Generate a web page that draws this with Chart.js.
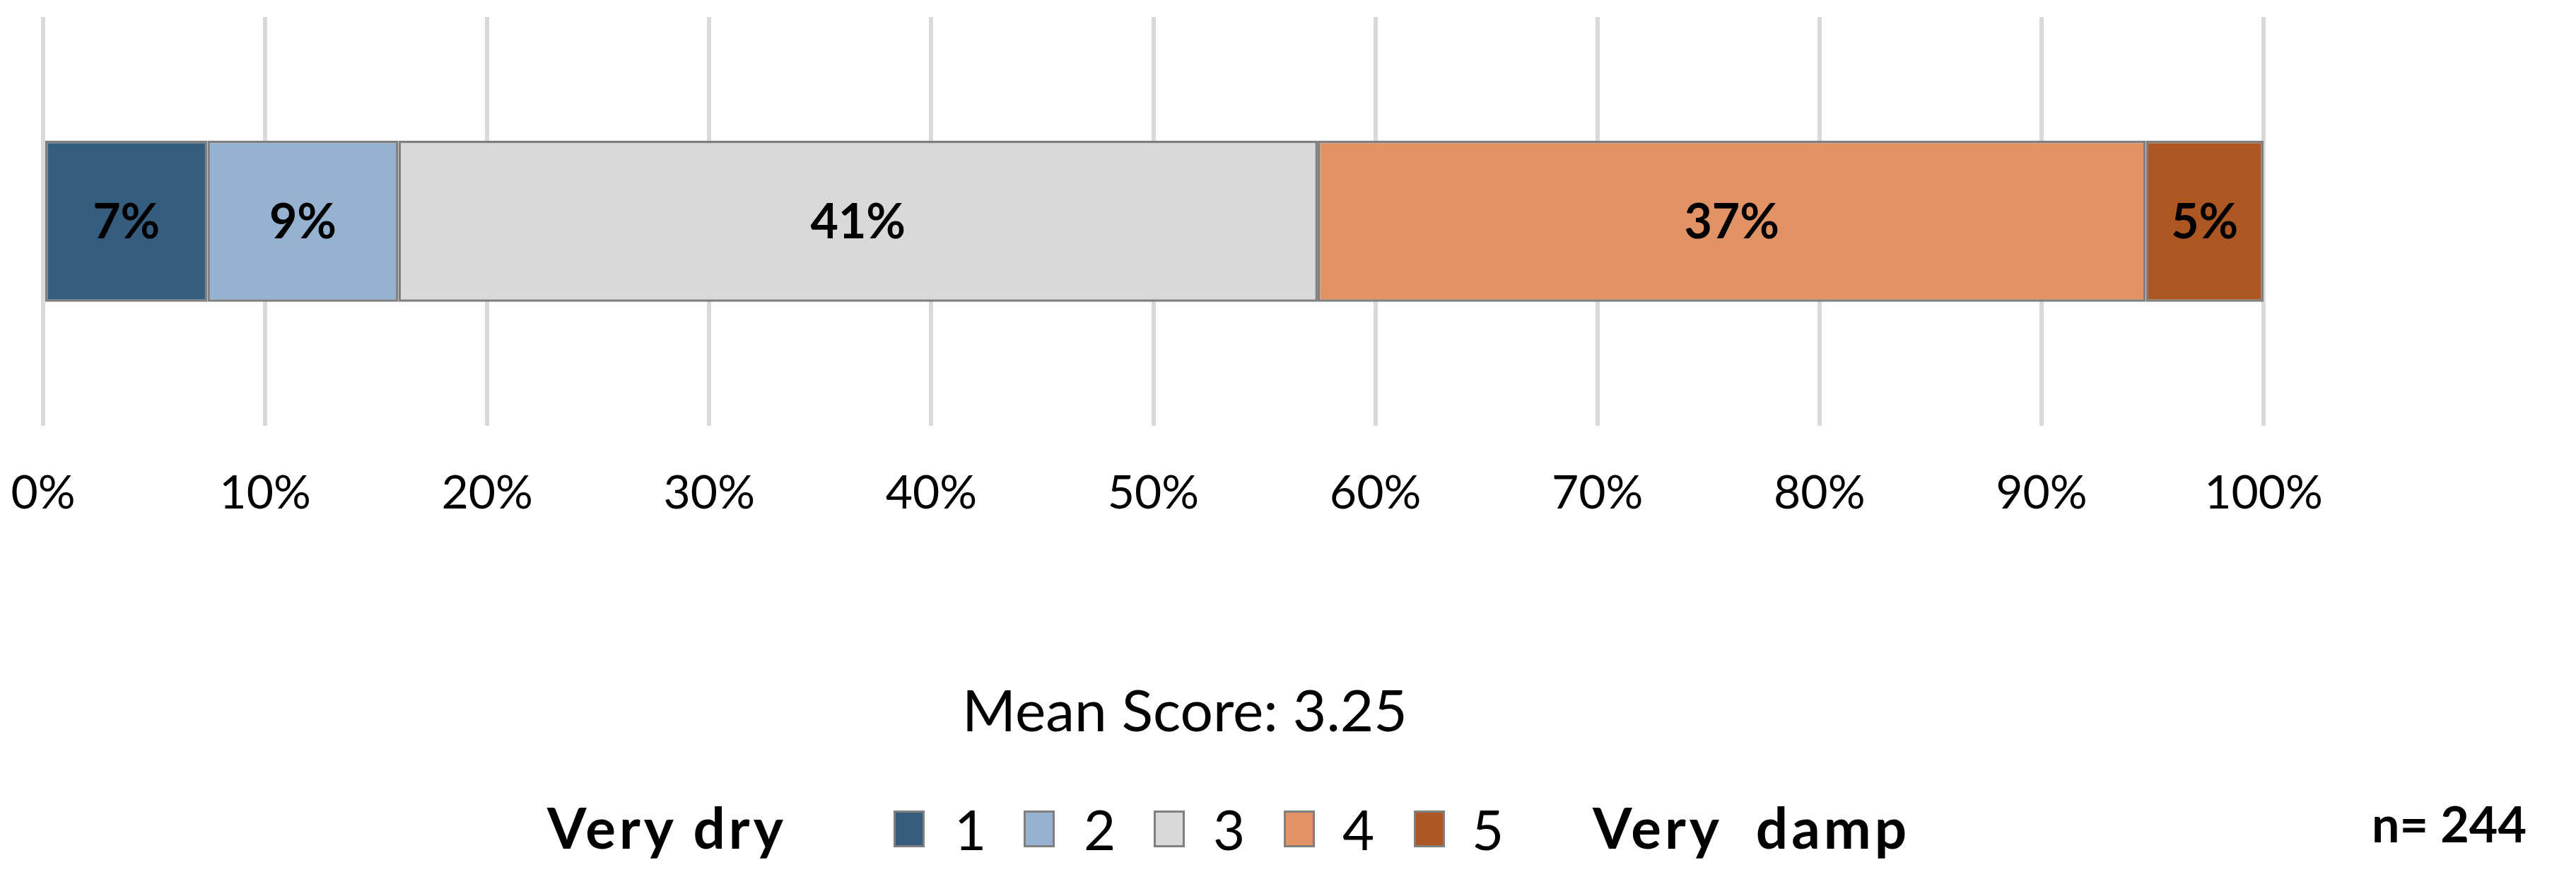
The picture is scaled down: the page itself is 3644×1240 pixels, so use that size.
<!DOCTYPE html>
<html>
<head>
<meta charset="utf-8">
<script src="https://cdn.jsdelivr.net/npm/chart.js@4.4.0/dist/chart.umd.min.js"></script>
<style>
  body { margin: 0; background: #fff; }
  #wrap { position: relative; width: 3644px; height: 1240px; font-family: Lato, "Open Sans", sans-serif; color: #000; }
  canvas { position: absolute; left: 0; top: 0; }
  .txt { position: absolute; white-space: pre; transform: translateY(-50%); line-height: 1; }
  .box { position: absolute; width: 44px; height: 52px; transform: translateY(-50%); box-sizing: border-box; border: 3px solid #7f7f7f; }
</style>
</head>
<body>
<div id="wrap">
  <canvas id="StackBar" width="3644" height="1240"></canvas>
</div>
<script>
// Share of answers per score (1 = very dry ... 5 = very damp)
const scores = ['1', '2', '3', '4', '5'];
const shares = [7.4, 8.6, 41.4, 37.3, 5.3];
const colors = ['#355e7e', '#95b3d1', '#d9d9d9', '#e19365', '#ad5722'];
const xTicks = [0, 10, 20, 30, 40, 50, 60, 70, 80, 90, 100];
const meanScore = '3.25';
const sampleSize = 244;
const lowLabel = 'Very dry';
const highLabel = 'Very  damp';

// draw the % labels inside each segment
const barLabels = {
    id: 'barLabels',
    afterDatasetsDraw(chart) {
        const ctx = chart.ctx;
        ctx.save();
        ctx.font = 'bold 68px Lato, sans-serif';
        ctx.fillStyle = '#000';
        ctx.textAlign = 'center';
        ctx.textBaseline = 'middle';
        chart.data.datasets.forEach((ds, i) => {
            const bar = chart.getDatasetMeta(i).data[0];
            const p = bar.getProps(['x', 'y', 'base'], true);
            ctx.fillText(Math.round(ds.data[0]) + '%', (p.x + p.base) / 2, p.y + 2);
        });
        ctx.restore();
    }
};

const ctx = document.getElementById('StackBar').getContext('2d');
new Chart(ctx, {
    type: 'bar',
    data: {
        labels: [''],
        datasets: scores.map((s, i) => ({
            label: s,
            data: [shares[i]],
            backgroundColor: colors[i],
            borderColor: '#7f7f7f',
            borderWidth: 3.5,
            borderSkipped: false,
            barPercentage: 1,
            categoryPercentage: 0.394
        }))
    },
    options: {
        indexAxis: 'y',
        responsive: false,
        animation: false,
        layout: { padding: { top: 24, left: 61, right: 442, bottom: 447 } },
        plugins: { legend: { display: false }, tooltip: { enabled: false } },
        scales: {
            x: {
                stacked: true,
                min: 0,
                max: 100,
                afterBuildTicks: axis => { axis.ticks = xTicks.map(v => ({ value: v })); },
                // keep the plot edges where the layout padding puts them
                afterFit: axis => { axis.paddingLeft = 0; axis.paddingRight = 0; },
                ticks: {
                    callback: v => v + '%',
                    font: { family: 'Lato', size: 66 },
                    color: '#000',
                    padding: 56,
                    maxRotation: 0
                },
                grid: { color: '#d9d9d9', lineWidth: 6, drawTicks: false },
                border: { display: false }
            },
            y: { stacked: true, display: false }
        }
    },
    plugins: [barLabels]
});

// text and legend below the chart
const wrap = document.getElementById('wrap');
function addText(str, left, top, size, bold, right) {
    const el = document.createElement('div');
    el.className = 'txt';
    el.textContent = str;
    el.style.top = top + 'px';
    if (right !== undefined) el.style.right = right + 'px'; else el.style.left = left + 'px';
    el.style.fontSize = size + 'px';
    if (bold) el.style.fontWeight = 'bold';
    wrap.appendChild(el);
    return el;
}
const mean = addText('Mean Score: ' + meanScore, 1676, 1002, 82, false);
mean.style.transform = 'translate(-50%, -50%)';
addText(lowLabel, 774, 1169, 80, true).style.letterSpacing = '5px';
scores.forEach((s, i) => {
    const b = document.createElement('div');
    b.className = 'box';
    b.style.left = (1264 + i * 184) + 'px';
    b.style.top = '1172px';
    b.style.background = colors[i];
    wrap.appendChild(b);
    addText(s, 1350 + i * 183, 1172, 78, false);
});
addText(highLabel, 2253, 1169, 80, true).style.letterSpacing = '5px';
addText('n= ' + sampleSize, 0, 1164, 70, true, 70);
</script>
</body>
</html>
